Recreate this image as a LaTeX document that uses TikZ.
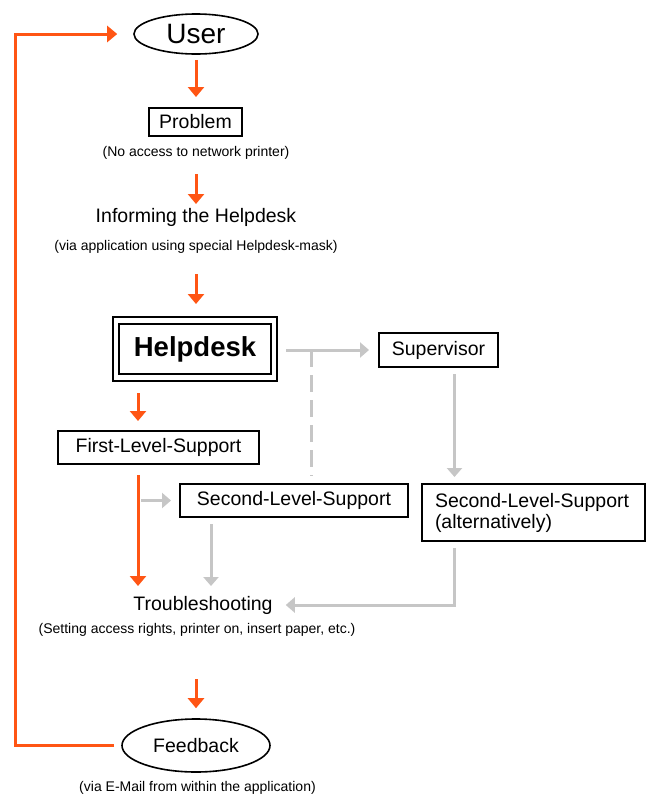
\documentclass[tikz,border=0pt]{standalone}
\usepackage{fontspec}
\setmainfont{Liberation Sans}
\usetikzlibrary{arrows.meta,shapes.geometric}
\definecolor{flow}{RGB}{255,85,20}
\definecolor{altgray}{RGB}{198,198,198}
\newcommand\mynormal{\fontsize{19.5}{21}\selectfont}
\newcommand\mysmall{\fontsize{14}{16}\selectfont}
\begin{document}
\begin{tikzpicture}[x=1pt,y=-1pt,
  box/.style={draw=black,line width=2pt,rectangle,inner sep=0pt,font=\mynormal},
  oval/.style={draw=black,line width=1.6pt,ellipse,inner sep=0pt,font=\mynormal},
  note/.style={inner sep=0pt,font=\mysmall},
  label/.style={inner sep=0pt,font=\mynormal},
  orangearrow/.style={draw=flow,line width=3pt,-{Triangle[width=16pt,length=10pt]}},
  grayarrow/.style={draw=altgray,line width=3pt,-{Triangle[width=15pt,length=9pt]}},
  grayline/.style={draw=altgray,line width=3pt,dash pattern=on 17pt off 8pt}]
\fill[white] (0,0) rectangle (646,796);
\useasboundingbox (0,0) rectangle (646,796);

% nodes
\node[oval,minimum width=124pt,minimum height=40pt,font=\fontsize{28}{30}\selectfont] (user) at (196,34) {User};
\node[box,minimum width=93pt,minimum height=28pt] (problem) at (195.5,122) {Problem};
\node[note] (noaccess) at (196,153) {(No access to network printer)};
\node[label] (inform) at (196,217) {Informing the Helpdesk};
\node[note] (viaapp) at (196,247) {(via application using special Helpdesk-mask)};
\node[draw=black,line width=2pt,double=white,double distance=4.5pt,rectangle,inner sep=0pt,
      minimum width=158pt,minimum height=57pt,font=\fontsize{27.5}{30}\selectfont\bfseries] (helpdesk) at (195,349) {Helpdesk};
\node[box,minimum width=119pt,minimum height=34pt] (supervisor) at (438.5,350) {Supervisor};
\node[box,minimum width=201pt,minimum height=33pt] (fls) at (158.5,447.5) {First-Level-Support};
\node[box,minimum height=57pt,text width=197pt,inner xsep=13pt,align=left] (alt) at (533.5,512.5) {\mbox{Second-Level-Support}\\(alternatively)};
\node[box,minimum width=228pt,minimum height=33pt] (sls) at (294,500.5) {Second-Level-Support};
\node[label,inner xsep=13pt] (trouble) at (203,605) {Troubleshooting};
\node[note] (setting) at (197,630) {(Setting access rights, printer on, insert paper, etc.)};
\node[oval,minimum width=148pt,minimum height=53pt] (feedback) at (196,745.5) {Feedback};
\node[note] (viamail) at (197.5,788) {(via E-Mail from within the application)};

% helper coordinates
\coordinate (loop) at (15,745.5);
\coordinate (lx) at (138,0);
\coordinate (dx) at (311,0);
\coordinate (sx) at (454.5,0);
\coordinate (gx) at (211,0);

% orange main flow
\draw[orangearrow,shorten <=5pt,shorten >=10pt] (user.south) -- (user.south |- problem.north);
\draw[orangearrow,shorten <=21pt,shorten >=13pt] (noaccess.center) -- (inform.center);
\draw[orangearrow,shorten <=27pt,shorten >=15.5pt] (viaapp.center) -- (viaapp.center |- helpdesk.north);
\draw[orangearrow,shorten <=14.5pt,shorten >=9pt] (lx |- helpdesk.south) -- (lx |- fls.north);
\draw[orangearrow,shorten <=10pt,shorten >=19pt] (lx |- fls.south) -- (lx |- trouble.center);
\draw[orangearrow,shorten <=49pt,shorten >=10pt] (feedback.north |- setting.center) -- (feedback.north);
\draw[orangearrow,shorten <=7pt,shorten >=16pt] (feedback.west) -- (loop) |- (user.west);

% gray alternatives
\draw[grayarrow,shorten <=11pt,shorten >=9pt] (supervisor.west -| helpdesk.east) -- (supervisor.west);
\draw[grayline,shorten >=7pt] (dx |- supervisor.west) -- (dx |- sls.north);
\draw[grayarrow,shorten <=3pt,shorten >=8pt] (sls.west -| lx) -- (sls.west);
\draw[grayarrow,shorten <=6pt,shorten >=6pt] (sx |- supervisor.south) -- (sx |- alt.north);
\draw[grayarrow,shorten <=6pt,shorten >=19pt] (gx |- sls.south) -- (gx |- trouble.center);
\draw[grayarrow,shorten <=6pt] (sx |- alt.south) |- (trouble.east);
\end{tikzpicture}
\end{document}
